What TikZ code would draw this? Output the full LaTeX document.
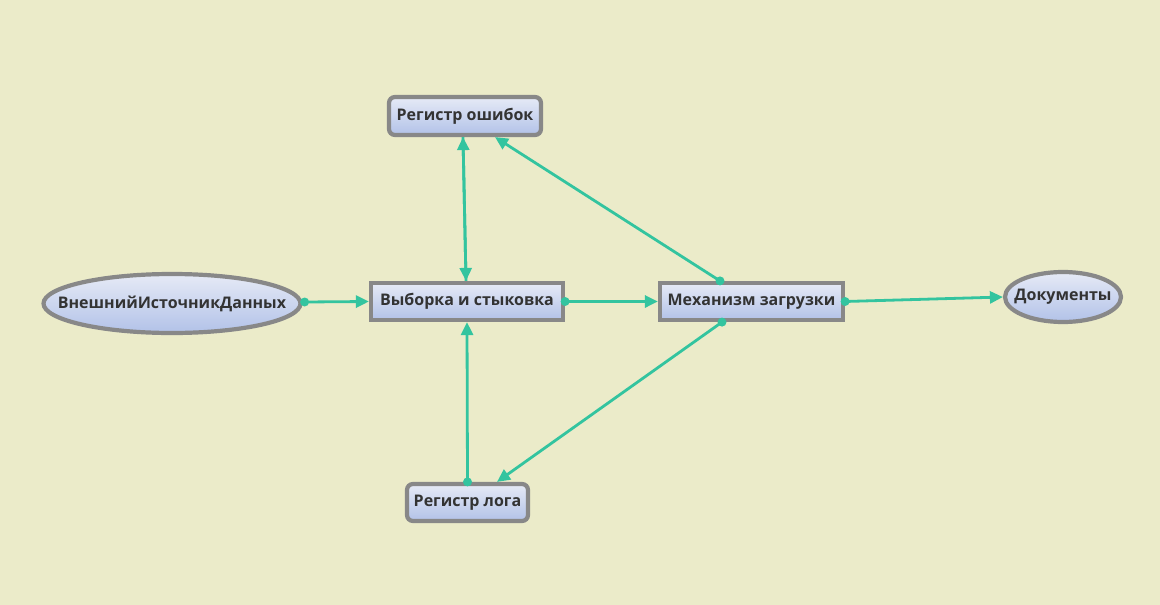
\documentclass[tikz,border=0pt]{standalone}
\usepackage{fontspec}
\setmainfont{Open Sans}
\usetikzlibrary{shapes.geometric,arrows.meta,calc}
\definecolor{bgc}{HTML}{EBEBC9}
\definecolor{bordc}{HTML}{888888}
\definecolor{topc}{HTML}{E6EAF6}
\definecolor{botc}{HTML}{B2C2E8}
\definecolor{edgec}{HTML}{33C49F}
\definecolor{txtc}{HTML}{333333}
\tikzset{
  base/.style={draw=bordc, line width=4.2pt, top color=topc, bottom color=botc,
    inner sep=0pt, text=txtc, font=\fontsize{16}{18}\selectfont\bfseries},
  boxn/.style={base, rectangle},
  roundn/.style={base, rectangle, rounded corners=6pt},
  elln/.style={base, ellipse},
  conn/.style={draw=edgec, line width=2.8pt, -{Triangle[length=13pt,width=12pt]}},
  dotc/.style={fill=edgec}
}
\begin{document}
\begin{tikzpicture}[x=1pt,y=-1pt]
\fill[bgc] (0,0) rectangle (1160,605);
\useasboundingbox (0,0) rectangle (1160,605);
\node[roundn, minimum width=152pt, minimum height=38pt] (err) at (465,116) {Регистр ошибок};
\node[boxn, minimum width=192pt, minimum height=37pt] (vyb) at (467,301.5) {Выборка и стыковка};
\node[elln, minimum width=257pt, minimum height=59pt] (ext) at (172,303.5) {\makebox[0pt]{ВнешнийИсточникДанных}};
\node[boxn, minimum width=183pt, minimum height=37pt] (mech) at (751.5,301.5) {Механизм загрузки};
\node[elln, minimum width=116pt, minimum height=50pt] (doc) at (1063,297) {\makebox[0pt]{Документы}};
\node[roundn, minimum width=121pt, minimum height=37pt] (log) at (467.5,502.5) {Регистр лога};

\coordinate (vybN) at ($(vyb.north)+(-1,0)$);
\coordinate (errS) at ($(err.south)+(-2,0)$);
\coordinate (errSE) at ($(err.south)+(30,0)$);
\coordinate (mechN) at ($(mech.north)+(-31.5,0)$);
\coordinate (mechS) at ($(mech.south)+(-29.5,0)$);
\coordinate (logNE) at ($(log.north)+(29.5,0)$);
\coordinate (extE) at ($(ext.east)+(2,-1.5)$);

\draw[conn] (extE) -- (vyb.west);
\draw[conn] (vyb.east) -- (mech.west);
\draw[conn] (mech.east) -- (doc.west);
\draw[conn] (vybN) -- (errS);
\draw[conn] (errS) -- (vybN);
\draw[conn] (mechN) -- (errSE);
\draw[conn] (mechS) -- (logNE);
\draw[conn] (log.north) -- (vyb.south);

\foreach \p in {extE, vyb.east, mech.east, mechN, mechS, log.north}
  \fill[dotc] (\p) circle (4.5pt);
\end{tikzpicture}
\end{document}
